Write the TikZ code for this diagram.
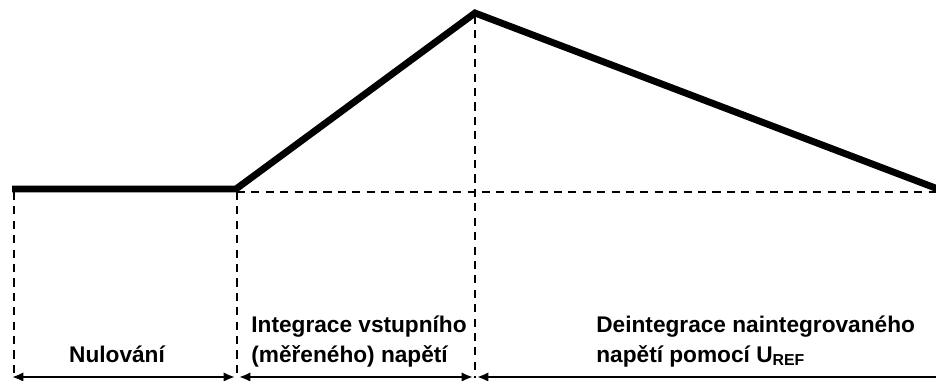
\documentclass[tikz,border=0pt]{standalone}
\usepackage{fontspec}
\setmainfont{Liberation Sans}
\usetikzlibrary{arrows.meta}

\begin{document}
\begin{tikzpicture}[x=0.02cm, y=-0.02cm,
    signal/.style={line width=3.9pt, line join=miter},
    guide/.style={line width=0.8pt, dash pattern=on 4.6pt off 3.6pt},
    span/.style={line width=1.5pt, {Latex[length=6.5pt,width=5.5pt]}-{Latex[length=6.5pt,width=5.5pt]}},
    label/.style={font=\fontsize{12.9}{17}\selectfont\bfseries, inner sep=0pt, align=left}]
    \useasboundingbox (0,0) rectangle (936,381);

    % Body krivky
    \coordinate (zero) at (12,189);
    \coordinate (intStart) at (236,189);
    \coordinate (peak) at (475,13);
    \coordinate (stop) at (938,189);

    % Prubeh napeti integratoru
    \draw[signal] (zero) -- (intStart) -- (peak) -- (stop);

    % Pomocne carkovane cary
    \coordinate (g0) at (14,378);
    \coordinate (g1) at (237,378);
    \coordinate (g2) at (475,378);
    \coordinate (ref) at (936,192);
    \draw[guide] (14,192) -- (g0);
    \draw[guide] (237,192) -- (g1);
    \draw[guide] (475,16) -- (g2);
    \draw[guide] (237,192) -- (ref);

    % Casove useky
    \coordinate (a0) at (12,377);
    \coordinate (a1) at (235,377);
    \coordinate (b0) at (239,377);
    \coordinate (b1) at (473,377);
    \coordinate (c0) at (477,377);
    \coordinate (c1) at (940,377);
    \draw[span] (a0) -- (a1);
    \draw[span] (b0) -- (b1);
    \draw[span, {Latex[length=6.5pt,width=5.5pt]}-] (c0) -- (c1);

    % Popisky
    \node[label, anchor=base] (zeroText) at (117,362) {Nulování};
    \node[label, anchor=base west] (intText) at (251,362)
        {Integrace vstupního\\(měřeného) napětí};
    \node[label, anchor=base west] (deintText) at (596,362)
        {Deintegrace naintegrovaného\\napětí pomocí U\textsubscript{REF}};
\end{tikzpicture}
\end{document}
